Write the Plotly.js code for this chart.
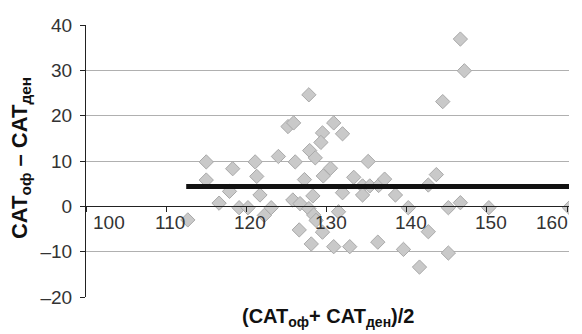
<!DOCTYPE html>
<html><head><meta charset="utf-8">
<script src="https://cdn.plot.ly/plotly-3.0.1.min.js"></script>
<style>html,body{margin:0;padding:0;background:#fff;}#chart{width:582px;height:334px;}</style>
</head><body><div id="chart"></div>
<script>
// Bland–Altman style data: mean of the two measurements vs their difference
const meanVals = [112.7,115.0,115.0,116.6,117.9,118.3,119.1,120.2,121.1,121.3,121.7,122.25,123.1,124.0,125.2,125.9,126.1,125.8,126.7,126.6,127.25,127.8,127.9,128.6,128.3,127.8,128.4,128.7,128.1,129.5,129.3,130.9,132.0,130.5,129.6,129.5,131.5,130.9,132.9,133.4,132.0,135.2,134.5,135.4,136.5,137.25,134.5,138.6,140.2,136.4,139.6,141.6,142.7,142.7,143.7,144.5,145.2,145.2,146.7,146.7,147.2,150.25,160.3];
const diffVals = [-3,9.8,5.8,0.7,3.3,8.3,-0.3,-0.3,9.8,6.6,2.5,-2,-0.3,11,17.6,18.4,9.8,1.4,0.6,-5.2,5.9,24.6,12.3,10.7,2.3,-0.5,-1.9,-3.1,-8.3,16.2,14.1,18.4,16,8.4,6.7,-5.7,-1.2,-8.9,-8.9,6.4,3.0,9.9,4.5,4.5,4.6,6.0,2.5,2.5,-0.3,-7.9,-9.5,-13.4,-5.6,4.7,7.0,23.1,-0.3,-10.3,0.8,36.9,29.9,-0.3,-0.3];
const meanLineX = [112.5, 160.3];
const meanLineY = [4.4, 4.4];
const xTickVals = [100,110,120,130,140,150,160];
const xTickText = ['100','110','120','130','140','150','160'];
const yTickVals = [-20,-10,0,10,20,30,40];
const yTickText = ['\u201320','\u201310','0','10','20','30','40'];

const tickFont = {family:'"Liberation Sans", Arial, sans-serif', size:19, color:'#333'};
const titleFont = {family:'"Liberation Sans", Arial, sans-serif', size:20, color:'#111', weight:'bold'};
const yTitleFont = {family:'"Liberation Sans", Arial, sans-serif', size:22, color:'#111', weight:'bold'};

const traces = [
  {x: meanVals, y: diffVals, type:'scatter', mode:'markers',
   marker:{symbol:'diamond', size:11, color:'#c9c9c9', line:{color:'#a9a9a9', width:1}},
   hoverinfo:'skip', showlegend:false},
  {x: meanLineX, y: meanLineY, type:'scatter', mode:'lines',
   line:{color:'#111', width:5}, hoverinfo:'skip', showlegend:false}
];

const annotations = xTickVals.map((v,i) => ({
  x: v, y: 0, xref:'x', yref:'y', text: xTickText[i], showarrow:false,
  xanchor: i===0 ? 'left' : (i===xTickVals.length-1 ? 'right' : 'center'),
  yanchor:'top', xshift: i===0 ? 5 : (i===xTickVals.length-1 ? 3 : 4), yshift:-4,
  font: tickFont
}));
annotations.push({
  x:0.5, y:-0.022, xref:'paper', yref:'paper', showarrow:false, yanchor:'top', xanchor:'center',
  text:'<b>(CAT<sub>оф</sub>+ CAT<sub>ден</sub>)/2</b>', font: titleFont
});
annotations.push({
  x:-0.135, y:0.51, xref:'paper', yref:'paper', showarrow:false, textangle:-90,
  xanchor:'center', yanchor:'middle',
  text:'<b>CAT<sub>оф</sub> – CAT<sub>ден</sub></b>', font: yTitleFont
});

const layout = {
  width:582, height:334,
  margin:{l:86, r:13, t:25, b:37},
  paper_bgcolor:'#fff', plot_bgcolor:'#fff',
  xaxis:{range:[100,160.25], anchor:'free', position:1/3, showline:true, linecolor:'#222', linewidth:1,
    ticks:'outside', ticklen:5, tickcolor:'#222', tickvals:xTickVals, showticklabels:false,
    showgrid:false, zeroline:false, fixedrange:true},
  yaxis:{range:[-20,40], tickvals:yTickVals, ticktext:yTickText, showline:true, linecolor:'#222', linewidth:1,
    ticks:'outside', ticklen:5, tickcolor:'#222', tickfont:tickFont, ticklabelstandoff:4,
    showgrid:true, gridcolor:'#b0b0b0', gridwidth:1, zeroline:false, fixedrange:true},
  annotations: annotations,
  font:{family:'"Liberation Sans", Arial, sans-serif'}
};
Plotly.newPlot('chart', traces, layout, {displayModeBar:false, staticPlot:true});
</script></body></html>
